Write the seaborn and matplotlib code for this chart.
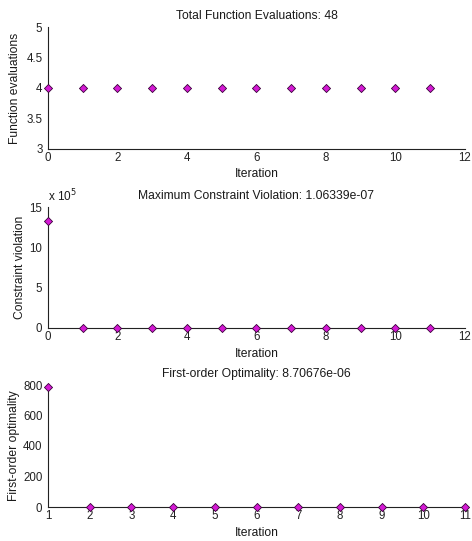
import numpy as np
import pandas as pd
import matplotlib
matplotlib.use("Agg")
import matplotlib.pyplot as plt
import seaborn as sns

# data
iter_a = [0, 1, 2, 3, 4, 5, 6, 7, 8, 9, 10, 11]
func_evals = [4, 4, 4, 4, 4, 4, 4, 4, 4, 4, 4, 4]
constr_viol = [1.33e6, 2.1e3, 1.4e2, 9.0, 0.6, 0.04, 3e-3, 2e-4, 1.5e-5, 1e-6, 2e-7, 1.06339e-7]
iter_b = [1, 2, 3, 4, 5, 6, 7, 8, 9, 10, 11]
first_order = [790, 2.5, 0.9, 0.3, 0.1, 0.03, 0.01, 2e-3, 4e-4, 5e-5, 8.70676e-06]

sns.set_style("white", {'text.color': '#1a1a1a', 'axes.labelcolor': '#1a1a1a',
                        'xtick.color': '#1a1a1a', 'ytick.color': '#1a1a1a'})
plt.rcParams['font.family'] = ['Liberation Sans', 'DejaVu Sans']
plt.rcParams['font.size'] = 8.7

fig = plt.figure(figsize=(4.72, 5.41), dpi=100)
W, H = 472, 541


def make_ax(top, bottom, left=48, right=465):
    return fig.add_axes([left / W, 1 - bottom / H, (right - left) / W, (bottom - top) / H])


def style(ax, ylab_x, xlab_top):
    for s in ['top', 'right']:
        ax.spines[s].set_visible(False)
    for s in ['left', 'bottom']:
        ax.spines[s].set_color('#222222')
        ax.spines[s].set_linewidth(0.8)
    ax.tick_params(direction='in', length=3, width=0.8, colors='#222222', labelsize=8.3, pad=4)
    ax.tick_params(axis='x', pad=2)
    ax.grid(False)
    bb = ax.get_position()
    h_px = bb.height * H
    w_px = bb.width * W
    ax.yaxis.set_label_coords((ylab_x - 48) / w_px, 0.5)
    ax.xaxis.set_label_coords(0.5, -xlab_top / h_px)


mk = dict(marker='D', s=17, color='#d41ad4', edgecolor='#3a003a', linewidth=0.6, clip_on=False, zorder=5)

# panel 1
ax1 = make_ax(27, 149)
sns.scatterplot(x=iter_a, y=func_evals, ax=ax1, **mk)
ax1.set_xlim(0, 12)
ax1.set_ylim(3, 5)
ax1.set_xticks(range(0, 13, 2))
ax1.set_yticks([3, 3.5, 4, 4.5, 5])
ax1.set_yticklabels(['3', '3.5', '4', '4.5', '5'])
ax1.set_title('Total Function Evaluations: 48', fontsize=8.7, pad=6)
ax1.set_xlabel('Iteration')
ax1.set_ylabel('Function evaluations')
style(ax1, 21, 19)

# panel 2
ax2 = make_ax(207, 328)
sns.scatterplot(x=iter_a, y=constr_viol, ax=ax2, **mk)
ax2.set_xlim(0, 12)
ax2.set_ylim(0, 1.5e6)
ax2.set_xticks(range(0, 13, 2))
ax2.set_yticks([0, 5e5, 1e6, 1.5e6])
ax2.set_yticklabels(['0', '5', '10', '15'])
ax2.text(0.0, 1.025, r'x 10$^5$', transform=ax2.transAxes, fontsize=8.5, ha='left', va='bottom')
ax2.set_title('Maximum Constraint Violation: 1.06339e-07', fontsize=8.7, pad=6)
ax2.set_xlabel('Iteration')
ax2.set_ylabel('Constraint violation')
style(ax2, 26, 20)

# panel 3
ax3 = make_ax(385, 507)
sns.scatterplot(x=iter_b, y=first_order, ax=ax3, **mk)
ax3.set_xlim(1, 11)
ax3.set_ylim(0, 800)
ax3.set_xticks(range(1, 12))
ax3.set_yticks([0, 200, 400, 600, 800])
ax3.set_title('First-order Optimality: 8.70676e-06', fontsize=8.7, pad=6)
ax3.set_xlabel('Iteration')
ax3.set_ylabel('First-order optimality')
style(ax3, 20, 20)

for ax in (ax1, ax2, ax3):
    if ax.get_legend() is not None:
        ax.get_legend().remove()

fig.savefig('out.png', dpi=100)
